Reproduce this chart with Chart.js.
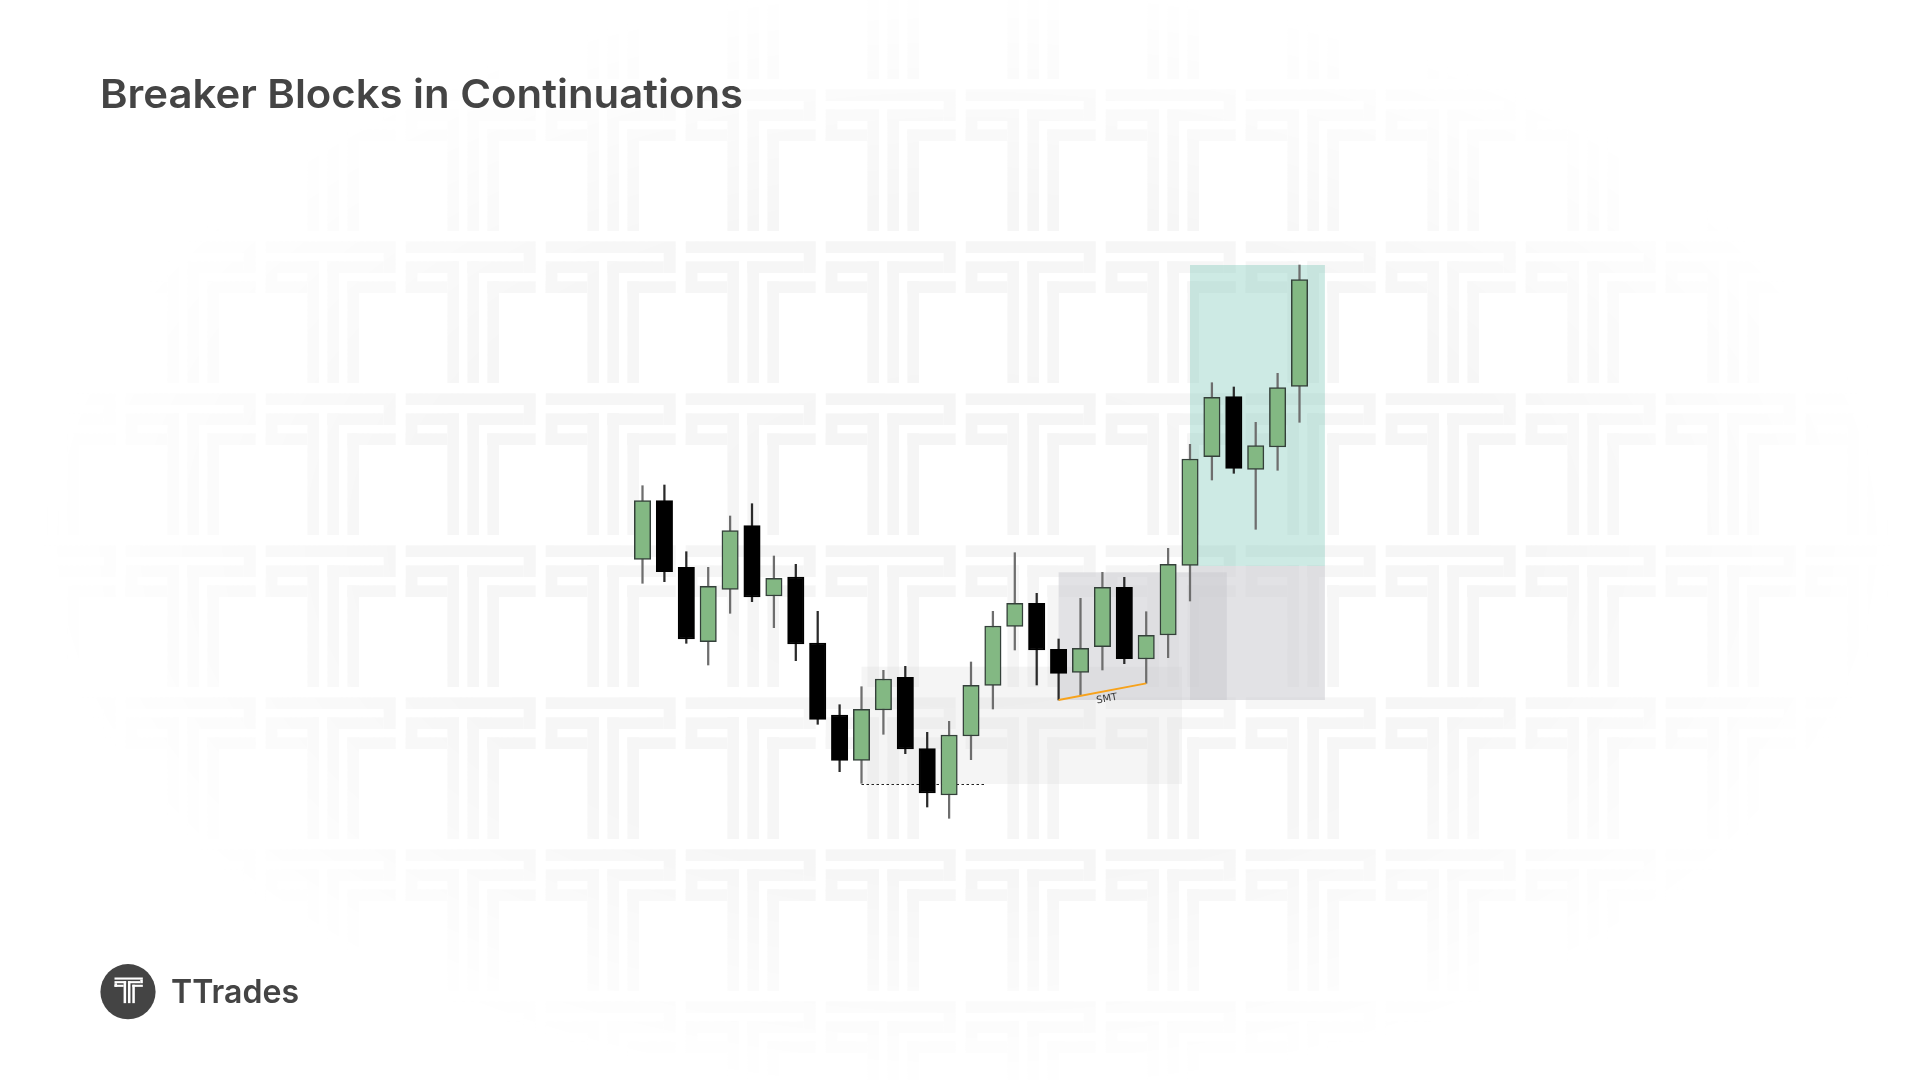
<!DOCTYPE html>
<html>
<head>
<meta charset="utf-8">
<script src="https://cdn.jsdelivr.net/npm/chart.js@4.4.1/dist/chart.umd.min.js"></script>
<style>
  html, body { margin:0; padding:0; background:#ffffff; width:1920px; height:1080px; overflow:hidden; }
  #bg, #chart { position:absolute; left:0; top:0; }
  #bg { z-index:0; }
  #chart { z-index:1; }
  .txt { position:absolute; z-index:2; color:#444444; font-family: Inter, "Open Sans", sans-serif; font-weight:600; white-space:nowrap; line-height:1; transform-origin:0 0; }
  #title { left:100px; top:73.8px; font-size:40px; }
  #brand { left:170.7px; top:974.8px; font-size:33px; }
</style>
</head>
<body>
<canvas id="bg" width="1920" height="1080"></canvas>
<canvas id="chart" width="1920" height="1080"></canvas>
<div id="title" class="txt">Breaker Blocks in Continuations</div>
<div id="brand" class="txt">TTrades</div>
<script>
// ---------------- DATA ----------------
const candleSlots = [0,1,2,3,4,5,6,7,8,9,10,11,12,13,14,15,16,17,18,19,20,21,22,23,24,25,26,27,28,29,30];
const opens  = [104.14,115.86,102.54, 87.66, 98.14,110.86, 96.80,100.60, 87.40, 73.00, 63.94, 74.00, 80.54, 66.26, 57.00, 68.80, 78.94, 90.74, 95.34, 86.14, 81.54, 86.66, 98.54, 84.20, 89.00,102.94,124.66,136.66,122.14,126.60,138.74];
const highs  = [118.86,119.00,105.66,102.54,112.80,115.26,104.80,103.14, 93.74, 75.06, 78.66, 81.94, 82.74, 69.54, 71.74, 83.60, 93.74,105.46, 97.34, 88.20, 96.34,101.54,100.54, 93.66,106.34,127.14,139.46,138.60,131.54,141.34,163.00];
const lows   = [ 99.34, 99.66, 87.34, 83.00, 93.34, 95.66, 90.46, 83.86, 71.14, 61.66, 59.34, 69.14, 65.26, 54.60, 52.34, 64.06, 74.20, 86.00, 79.00, 76.00, 76.86, 82.00, 83.26, 79.34, 84.46, 95.80,120.00,121.34,110.14,121.94,131.54];
const closes = [115.86,101.66, 88.20, 98.74,109.86, 96.60,100.34, 87.20, 72.14, 63.94, 74.14, 80.20, 66.20, 57.40, 69.00, 78.94, 90.80, 95.34, 86.00, 81.34, 86.34, 98.54, 84.26, 88.94,103.14,124.20,136.54,122.34,126.86,138.46,160.06];

// Zones (x in candle slots, y in price)
const zoneX0     = [10.00, 19.00, 25.00, 25.00];
const zoneX1     = [24.63, 26.68, 31.16, 31.16];
const zoneTop    = [82.66,101.54,102.80,163.00];
const zoneBottom = [59.20, 76.00, 76.00,102.80];

// Dotted low line
const dottedX = [10.00, 15.67];
const dottedY = [59.30, 59.30];

// SMT line (lows of two candles)
const smtX = [19, 23];
const smtY = [76.00, 79.34];
const smtLabel = 'SMT';

// Axis ranges
const xRange = [-29.338, 58.333];
const yRange = [0, 216];

// ---------------- STYLES ----------------
const GREEN = '#83b883', GREEN_BORDER = '#34403a', BLACK = '#000000';
const zoneColors = ['rgba(215,215,215,0.25)', 'rgba(202,203,207,0.55)', 'rgba(202,203,207,0.55)', 'rgba(100,190,170,0.32)'];

// ---------------- BACKGROUND (watermark) ----------------
(function drawBackground(){
  const c = document.getElementById('bg');
  const g = c.getContext('2d');
  const tile = [
    [0,0,130,11.7],[118,11.7,12,20],[0,20,53.3,11.7],[61.7,20,56.3,11.7],
    [0,31.7,11.7,20],[0,40,41.7,11.7],[81.7,40,48.3,11.7],
    [41.7,20,11.6,121.7],[61.7,20,11.6,121.7],[81.7,40,11.6,101.7]
  ];
  g.fillStyle = 'rgb(245,245,245)';
  for (let ty = -62.7; ty < 1100; ty += 152) {
    for (let tx = -14.3; tx < 1940; tx += 140) {
      tile.forEach(r => g.fillRect(tx + r[0], ty + r[1], r[2], r[3]));
    }
  }
  // elliptical fade
  g.save();
  g.globalCompositeOperation = 'destination-in';
  g.translate(967, 540);
  g.scale(930/560, 1);
  const grad = g.createRadialGradient(0,0,0,0,0,560);
  grad.addColorStop(0, 'rgba(0,0,0,1)');
  grad.addColorStop(0.6, 'rgba(0,0,0,0.9)');
  grad.addColorStop(1, 'rgba(0,0,0,0)');
  g.fillStyle = grad;
  g.fillRect(-3000,-3000,6000,6000);
  g.restore();
  g.save();
  g.globalCompositeOperation = 'destination-over';
  g.fillStyle = '#ffffff';
  g.fillRect(0,0,1920,1080);
  g.restore();
  // brand logo
  g.fillStyle = '#444444';
  g.beginPath(); g.arc(128, 991.7, 27.6, 0, Math.PI*2); g.fill();
  g.fillStyle = '#ffffff';
  const sx = 0.218, sy = 0.181, ox = 114.5, oy = 977.5;
  tile.forEach(r => g.fillRect(ox + r[0]*sx, oy + r[1]*sy, r[2]*sx, r[3]*sy));
})();

// ---------------- TEXT FIT ----------------
(function fitText(){
  const m = document.createElement('canvas').getContext('2d');
  function fit(id, size, target){
    const el = document.getElementById(id);
    m.font = '600 ' + size + 'px Inter, "Open Sans", sans-serif';
    const w = m.measureText(el.textContent).width;
    el.style.transform = 'scaleX(' + (target / w) + ')';
  }
  fit('title', 40, 643);
  fit('brand', 33, 128);
})();

// ---------------- CHART ----------------
const isUp = closes.map((c, i) => c >= opens[i]);
const zonesPlugin = {
  id: 'zones',
  beforeDatasetsDraw(chart) {
    const {ctx, scales: {x, y}} = chart;
    ctx.save();
    for (let i = 0; i < zoneX0.length; i++) {
      const x0 = x.getPixelForValue(zoneX0[i]), x1 = x.getPixelForValue(zoneX1[i]);
      const y0 = y.getPixelForValue(zoneTop[i]), y1 = y.getPixelForValue(zoneBottom[i]);
      ctx.fillStyle = zoneColors[i];
      ctx.fillRect(x0, y0, x1 - x0, y1 - y0);
    }
    ctx.strokeStyle = '#222222';
    ctx.lineWidth = 1;
    ctx.setLineDash([2.5, 2.5]);
    ctx.beginPath();
    ctx.moveTo(x.getPixelForValue(dottedX[0]), Math.round(y.getPixelForValue(dottedY[0])) + 0.5);
    ctx.lineTo(x.getPixelForValue(dottedX[1]), Math.round(y.getPixelForValue(dottedY[1])) + 0.5);
    ctx.stroke();
    ctx.restore();
  },
  afterDatasetsDraw(chart) {
    const {ctx, scales: {x, y}} = chart;
    const ax = x.getPixelForValue(smtX[0]), ay = y.getPixelForValue(smtY[0]);
    const bx = x.getPixelForValue(smtX[1]), by = y.getPixelForValue(smtY[1]);
    ctx.save();
    ctx.strokeStyle = '#f7a21b';
    ctx.lineWidth = 1.8;
    ctx.beginPath(); ctx.moveTo(ax, ay); ctx.lineTo(bx, by); ctx.stroke();
    const ang = Math.atan2(by - ay, bx - ax);
    const mx = (ax + bx) / 2, my = (ay + by) / 2;
    ctx.translate(mx, my);
    ctx.rotate(ang);
    ctx.fillStyle = '#3a3a3a';
    ctx.font = '10px "DejaVu Sans", sans-serif';
    ctx.textAlign = 'center';
    ctx.textBaseline = 'middle';
    ctx.fillText(smtLabel, 3, 8);
    ctx.restore();
  }
};

new Chart(document.getElementById('chart'), {
  type: 'bar',
  data: {
    datasets: [
      {
        label: 'wicks',
        data: candleSlots.map((s, i) => ({x: s, y: [lows[i], highs[i]]})),
        backgroundColor: isUp.map(u => u ? '#6e6e6e' : '#2a2a2a'),
        borderWidth: 0,
        barThickness: 1.6,
        grouped: false,
        order: 2
      },
      {
        label: 'bodies',
        data: candleSlots.map((s, i) => ({x: s, y: [opens[i], closes[i]]})),
        backgroundColor: isUp.map(u => u ? GREEN : BLACK),
        borderColor: isUp.map(u => u ? GREEN_BORDER : BLACK),
        borderWidth: 1.5,
        borderSkipped: false,
        barThickness: 16.4,
        grouped: false,
        order: 1
      }
    ]
  },
  options: {
    responsive: false,
    devicePixelRatio: 1,
    animation: false,
    layout: { padding: 0 },
    plugins: { legend: { display: false }, title: { display: false }, tooltip: { enabled: false } },
    scales: {
      x: { type: 'linear', min: xRange[0], max: xRange[1], offset: false, display: false },
      y: { type: 'linear', min: yRange[0], max: yRange[1], display: false }
    }
  },
  plugins: [zonesPlugin]
});
</script>
</body>
</html>
